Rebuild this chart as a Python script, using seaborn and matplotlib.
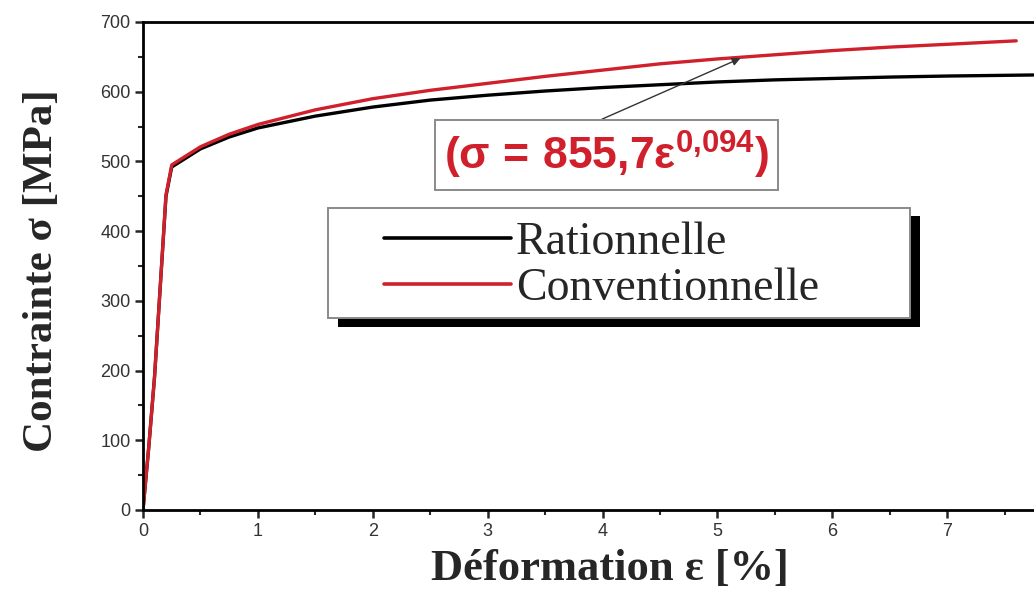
import matplotlib
matplotlib.use("Agg")
import matplotlib.pyplot as plt
from matplotlib.patches import Rectangle
from matplotlib.ticker import MultipleLocator
import seaborn as sns

# Stress-strain curves (strain in %, stress in MPa)
strain_rat = [0, 0.05, 0.1, 0.15, 0.2, 0.25, 0.5, 0.75, 1.0, 1.5, 2.0, 2.5, 3.0,
              3.5, 4.0, 4.5, 5.0, 5.5, 6.0, 6.5, 7.0, 7.5, 7.75]
stress_rat = [0, 90, 190, 320, 450, 492, 518, 535, 548, 565, 578, 588, 595,
              601, 606, 610, 614, 617, 619, 621, 622.5, 623.5, 624]

strain_conv = [0, 0.05, 0.1, 0.15, 0.2, 0.25, 0.5, 0.75, 1.0, 1.5, 2.0, 2.5, 3.0,
               3.5, 4.0, 4.5, 5.0, 5.5, 6.0, 6.5, 7.0, 7.6]
stress_conv = [0, 90, 190, 320, 452, 495, 521, 539, 553, 574, 590, 602, 612,
               622, 631, 640, 647, 653, 659, 664, 668, 673]

series_labels = ["Rationnelle", "Conventionnelle"]
fit_label = r"$\mathbf{(\sigma\,=\,855{,}7\varepsilon^{0{,}094})}$"
fit_point = (5.2, 648)

sns.set_style("ticks")
plt.rcParams["font.family"] = ["Liberation Sans", "DejaVu Sans"]
plt.rcParams["mathtext.fontset"] = "custom"
plt.rcParams["mathtext.bf"] = "Liberation Sans:bold"
plt.rcParams["mathtext.rm"] = "Liberation Sans"
plt.rcParams["mathtext.it"] = "Liberation Sans:italic"

RED = "#d0202c"
SERIF = ["Liberation Serif", "DejaVu Serif"]

fig = plt.figure(figsize=(10.34, 5.90), dpi=100)
ax = fig.add_axes([143 / 1034, 1 - 510 / 590, 891 / 1034, 488 / 590])

sns.lineplot(x=strain_rat, y=stress_rat, ax=ax, color="black", lw=2.4,
             label=series_labels[0], sort=False)
sns.lineplot(x=strain_conv, y=stress_conv, ax=ax, color=RED, lw=2.4,
             label=series_labels[1], sort=False)

ax.set_xlim(0, 7.755)
ax.set_ylim(0, 700)
ax.xaxis.set_major_locator(MultipleLocator(1))
ax.xaxis.set_minor_locator(MultipleLocator(0.5))
ax.yaxis.set_major_locator(MultipleLocator(100))
ax.yaxis.set_minor_locator(MultipleLocator(50))
ax.tick_params(which="major", direction="out", length=6, width=1.8,
               labelsize=13, labelcolor="#333333", pad=3)
ax.tick_params(which="minor", direction="out", length=3.5, width=1.5)

for side in ("left", "bottom", "top"):
    ax.spines[side].set_linewidth(2.0)
    ax.spines[side].set_color("black")
ax.spines["right"].set_visible(False)

ax.set_xlabel("Déformation ε [%]", fontfamily=SERIF, fontweight="bold", fontsize=32)
ax.set_ylabel("Contrainte σ [MPa]", fontfamily=SERIF, fontweight="bold", fontsize=31)
ax.xaxis.set_label_coords(0.524, -0.080)
ax.yaxis.set_label_coords(-0.092, 0.49)

# Legend: framed box with a solid drop shadow
fx0, fy0, fw, fh = 0.2076, 0.393, 0.653, 0.226
ax.add_patch(Rectangle((fx0 + 0.011, fy0 - 0.017), fw, fh, transform=ax.transAxes,
                       facecolor="black", edgecolor="none", zorder=4.0, clip_on=False))
ax.add_patch(Rectangle((fx0, fy0), fw, fh, transform=ax.transAxes,
                       facecolor="white", edgecolor="#8a8a8a", lw=1.4, zorder=4.1,
                       clip_on=False))
leg = ax.legend(loc="center left", bbox_to_anchor=(0.271, 0.500), frameon=False,
                borderpad=0, borderaxespad=0, handlelength=2.75, handletextpad=0.12,
                labelspacing=0.08, prop={"family": SERIF, "size": 33})
leg.set_zorder(5)
for h in leg.get_lines():
    h.set_linewidth(2.6)

# Power-law fit annotation
ax.annotate(fit_label, xy=fit_point, xytext=(0.520, 0.728), textcoords="axes fraction",
            ha="center", va="center", fontsize=32, color=RED, zorder=6,
            bbox=dict(boxstyle="square,pad=0.2", facecolor="white",
                      edgecolor="#8a8a8a", lw=1.4),
            arrowprops=dict(arrowstyle="-|>", color="#333333", lw=1.0,
                            mutation_scale=12, relpos=(0.42, 1.0),
                            shrinkA=0, shrinkB=0))

fig.savefig("out.png", dpi=100)
